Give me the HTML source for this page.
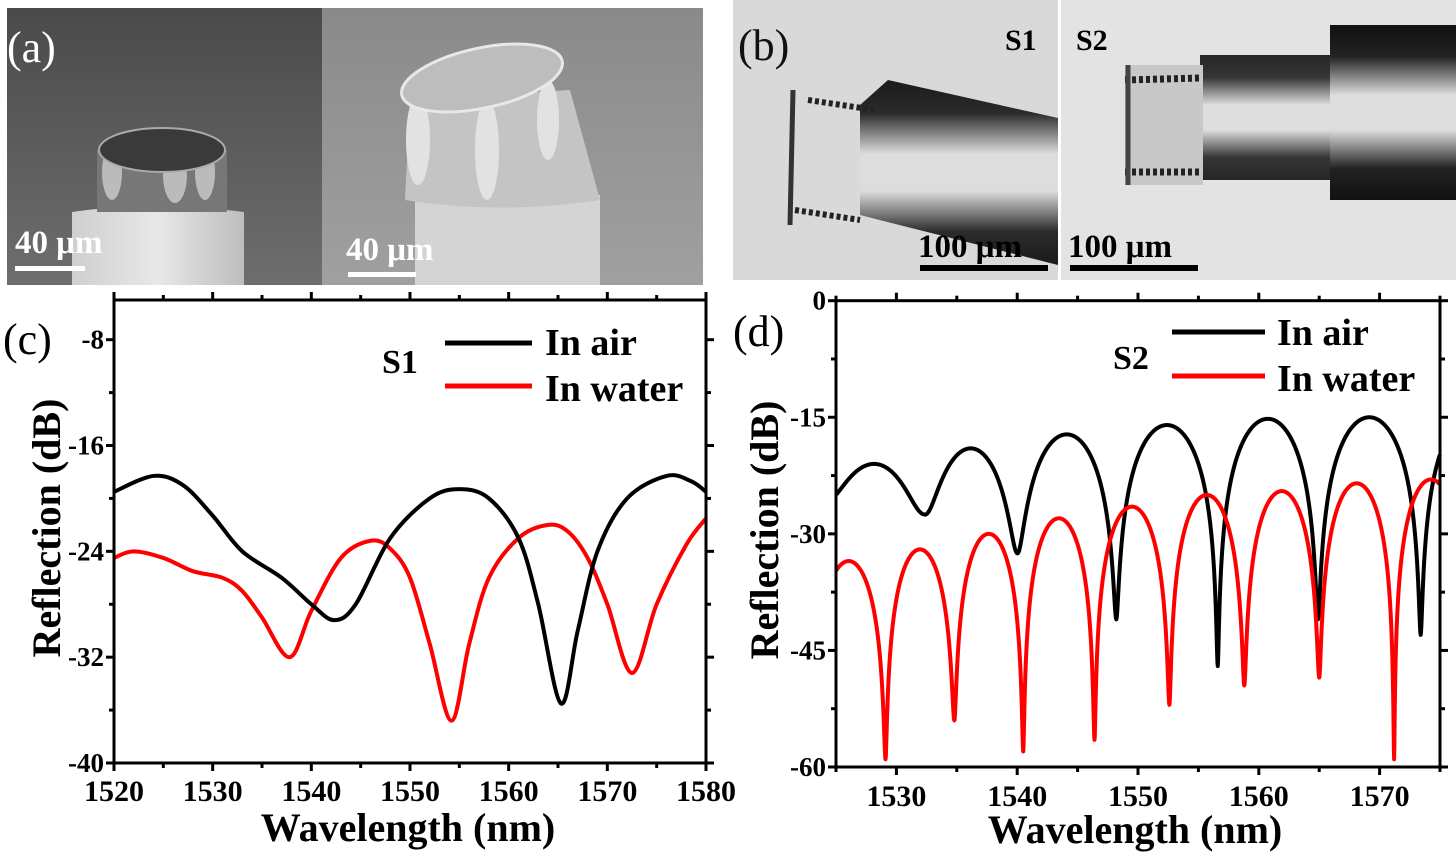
<!DOCTYPE html>
<html><head><meta charset="utf-8">
<style>
html,body{margin:0;padding:0;background:#fff;}
svg{display:block;}
text{font-family:"Liberation Serif",serif;}
.b{font-weight:bold;}
</style></head>
<body>
<svg id="s" width="1456" height="863" viewBox="0 0 1456 863" xmlns="http://www.w3.org/2000/svg">
<defs>
<linearGradient id="ga" x1="0" y1="0" x2="0" y2="1"><stop offset="0" stop-color="#4a4a4a"/><stop offset="1" stop-color="#6e6e6e"/></linearGradient>
<linearGradient id="gb" x1="0" y1="0" x2="0" y2="1"><stop offset="0" stop-color="#8a8a8a"/><stop offset="1" stop-color="#a0a0a0"/></linearGradient>
<linearGradient id="gc" x1="0" y1="0" x2="1" y2="0"><stop offset="0" stop-color="#cfcfcf"/><stop offset="0.5" stop-color="#e8e8e8"/><stop offset="1" stop-color="#bdbdbd"/></linearGradient>
<linearGradient id="fb1" x1="0" y1="0" x2="0" y2="1"><stop offset="0" stop-color="#111"/><stop offset="0.18" stop-color="#222"/><stop offset="0.4" stop-color="#ddd"/><stop offset="0.6" stop-color="#ddd"/><stop offset="0.82" stop-color="#222"/><stop offset="1" stop-color="#111"/></linearGradient>
<clipPath id="ca"><rect x="7" y="8" width="696" height="277"/></clipPath>
<clipPath id="cb1"><rect x="733" y="0" width="325" height="280"/></clipPath>
<clipPath id="cb2"><rect x="1061" y="0" width="395" height="280"/></clipPath>
</defs>
<!-- (a) -->
<g clip-path="url(#ca)">
<rect x="7" y="8" width="315" height="277" fill="url(#ga)"/>
<rect x="322" y="8" width="381" height="277" fill="url(#gb)"/>
<path d="M72 292 L72 212 Q150 200 244 212 L244 292Z" fill="url(#gc)"/>
<rect x="97" y="150" width="130" height="62" fill="#777"/>
<g fill="#bbb"><ellipse cx="112" cy="172" rx="10" ry="28"/><ellipse cx="175" cy="175" rx="12" ry="28"/><ellipse cx="205" cy="172" rx="10" ry="28"/></g>
<ellipse cx="162" cy="150" rx="63" ry="22" fill="#3a3a3a" stroke="#aaa" stroke-width="2"/>
<path d="M415 285 L415 200 Q500 185 600 195 L600 285Z" fill="#d4d4d4"/>
<path d="M405 200 L410 100 L570 90 L600 200 Q500 215 405 200Z" fill="#c4c4c4"/>
<g fill="#e2e2e2"><ellipse cx="418" cy="140" rx="12" ry="45"/><ellipse cx="487" cy="150" rx="12" ry="50"/><ellipse cx="548" cy="120" rx="11" ry="40"/></g>
<ellipse cx="482" cy="78" rx="82" ry="30" fill="#bdbdbd" stroke="#e8e8e8" stroke-width="3" transform="rotate(-12 482 78)"/>
</g>
<text x="7" y="62" font-size="44" fill="#fff">(a)</text>
<text x="15" y="253" font-size="33" class="b" fill="#fff">40 μm</text>
<rect x="15" y="266" width="70" height="5" fill="#fff"/>
<text x="346" y="260" font-size="33" class="b" fill="#fff">40 μm</text>
<rect x="348" y="272" width="68" height="5" fill="#fff"/>
<!-- (b) -->
<g clip-path="url(#cb1)">
<rect x="733" y="0" width="325" height="280" fill="#d9d9d9"/>
<polygon points="888,80 1058,118 1058,265 860,215 860,105" fill="url(#fb1)" opacity="0.95"/>
<g stroke="#222" stroke-width="6" stroke-dasharray="4 3"><line x1="808" y1="100" x2="875" y2="110"/><line x1="795" y1="210" x2="860" y2="220"/></g>
<line x1="793" y1="90" x2="790" y2="225" stroke="#333" stroke-width="5"/>
</g>
<g clip-path="url(#cb2)">
<rect x="1061" y="0" width="395" height="280" fill="#e3e3e3"/>
<rect x="1330" y="25" width="126" height="175" fill="url(#fb1)"/>
<rect x="1200" y="55" width="130" height="125" fill="url(#fb1)" opacity="0.9"/>
<rect x="1125" y="65" width="78" height="120" fill="#c8c8c8"/>
<g stroke="#222" stroke-width="7" stroke-dasharray="4 3"><line x1="1125" y1="80" x2="1200" y2="78"/><line x1="1125" y1="172" x2="1200" y2="172"/></g>
<line x1="1128" y1="65" x2="1128" y2="185" stroke="#444" stroke-width="5"/>
</g>
<text x="738" y="60" font-size="44" fill="#111">(b)</text>
<text x="1005" y="50" font-size="30" class="b">S1</text>
<text x="1076" y="50" font-size="30" class="b">S2</text>
<text x="918" y="257" font-size="33" class="b">100 μm</text>
<rect x="920" y="265" width="128" height="6" fill="#000"/>
<text x="1068" y="257" font-size="33" class="b">100 μm</text>
<rect x="1070" y="265" width="128" height="6" fill="#000"/>
<g id="plots"></g>
</svg>
<script>
var NS="http://www.w3.org/2000/svg",G=document.getElementById("plots");
function el(t,a,txt){var e=document.createElementNS(NS,t);for(var k in a)e.setAttribute(k,a[k]);if(txt!=null)e.textContent=txt;G.appendChild(e);return e;}
var cx=function(l){return 114+(l-1520)*(592/60);}, cy=function(d){return 763-(d+40)*(463/35);};
function cr(pts,fx,fy){var p=pts.map(function(q){return [fx(q[0]),fy(q[1])];});var s="M"+p[0][0]+" "+p[0][1];
for(var i=0;i<p.length-1;i++){var p0=p[i-1]||p[i],p1=p[i],p2=p[i+1],p3=p[i+2]||p2;
s+=" C"+(p1[0]+(p2[0]-p0[0])/6)+" "+(p1[1]+(p2[1]-p0[1])/6)+" "+(p2[0]-(p3[0]-p1[0])/6)+" "+(p2[1]-(p3[1]-p1[1])/6)+" "+p2[0]+" "+p2[1];}return s;}
var blk=[[1520,-19.5],[1524,-18.3],[1527,-19],[1530,-21.3],[1533,-24],[1537,-26],[1540,-28],[1542.3,-29.2],[1544.5,-28],[1548,-23],[1552,-20],[1555,-19.3],[1558,-20],[1561,-23],[1563,-28],[1565.3,-35.5],[1567,-30],[1569,-24],[1572,-20],[1576,-18.3],[1578.5,-18.7],[1580,-19.5]];
var red=[[1520,-24.5],[1522,-24],[1525,-24.5],[1528,-25.5],[1531,-26],[1533,-27],[1535,-29],[1537.8,-32],[1540,-28.5],[1543,-24.5],[1546,-23.2],[1548,-23.8],[1550,-26],[1552,-31],[1554.2,-36.8],[1556,-31],[1558,-26],[1561,-23],[1564,-22],[1566,-22.5],[1568,-24.5],[1570,-28],[1572.5,-33.2],[1575,-28],[1578,-23.5],[1580,-21.5]];
el("path",{d:cr(red,cx,cy),fill:"none",stroke:"#f00","stroke-width":4});
el("path",{d:cr(blk,cx,cy),fill:"none",stroke:"#000","stroke-width":4});
el("rect",{x:114,y:300,width:592,height:463,fill:"none",stroke:"#000","stroke-width":3});
for(var l=1520;l<=1580;l+=5){var x=cx(l),L=(l%10==0)?8:5;el("line",{x1:x,y1:763,x2:x,y2:763+L,stroke:"#000","stroke-width":3});el("line",{x1:x,y1:300,x2:x,y2:300-L,stroke:"#000","stroke-width":3});
if(l%10==0)el("text",{x:x,y:801,"font-size":30,"text-anchor":"middle","class":"b"},l);}
for(var d=-40;d<=-8;d+=4){var y=cy(d),L=(d%8==0)?8:5;el("line",{x1:114,y1:y,x2:114-L,y2:y,stroke:"#000","stroke-width":3});el("line",{x1:706,y1:y,x2:706+L,y2:y,stroke:"#000","stroke-width":3});
if(d%8==0)el("text",{x:104,y:y+9,"font-size":27,"text-anchor":"end","class":"b"},d);}
el("text",{x:408,y:841,"font-size":40,"text-anchor":"middle","class":"b"},"Wavelength (nm)");
el("text",{x:0,y:0,"font-size":40,"text-anchor":"middle","class":"b",transform:"translate(60 528) rotate(-90)"},"Reflection (dB)");
el("text",{x:3,y:354,"font-size":44},"(c)");
el("line",{x1:445,y1:343,x2:532,y2:343,stroke:"#000","stroke-width":5});
el("line",{x1:445,y1:386,x2:532,y2:386,stroke:"#f00","stroke-width":5});
el("text",{x:545,y:355,"font-size":38,"class":"b"},"In air");
el("text",{x:545,y:401,"font-size":38,"class":"b"},"In water");
el("text",{x:382,y:373,"font-size":34,"class":"b"},"S1");
var dx=function(l){return 836+(l-1525)*(604/50);}, dy=function(v){return 300.7-v*(466.3/60);};
function fp(dips,peaks){var s="";for(var k=0;k<dips.length-1;k++){var a=dips[k],b=dips[k+1],p=peaks[k];
for(var i=0;i<=300;i++){var t=i/300,l=a[0]+(b[0]-a[0])*t;if(l<1525||l>1575)continue;var mn=a[1]+(b[1]-a[1])*t;
var Rmin=Math.pow(10,mn/10),Rmax=Math.pow(10,p/10),sn=Math.sin(Math.PI*t);var R=Rmin+(Rmax-Rmin)*sn*sn;var v=10*Math.log10(R);
s+=(s?" L":"M")+dx(l).toFixed(2)+" "+dy(v).toFixed(2);}}return s;}
var bd=[[1524,-26],[1532.3,-27.5],[1540,-32.5],[1548.2,-41],[1556.6,-47],[1564.9,-41],[1573.4,-43],[1581.8,-40]];
var bp=[-21,-19,-17.2,-16,-15.2,-15,-14.8];
var rd=[[1523,-40],[1529.1,-59],[1534.8,-54],[1540.5,-58],[1546.4,-56.5],[1552.6,-52],[1558.8,-49.5],[1565,-48.5],[1571.2,-59],[1577.3,-50]];
var rp=[-33.5,-32,-30,-28,-26.5,-25,-24.5,-23.5,-23];
el("path",{d:fp(bd,bp),fill:"none",stroke:"#000","stroke-width":4,"stroke-linejoin":"round"});
el("path",{d:fp(rd,rp),fill:"none",stroke:"#f00","stroke-width":4,"stroke-linejoin":"round"});
el("rect",{x:836,y:300.7,width:604,height:466.3,fill:"none",stroke:"#000","stroke-width":3});
for(var l=1525;l<=1575;l+=5){var x=dx(l),L=(l%10==0)?8:5;el("line",{x1:x,y1:767,x2:x,y2:767+L,stroke:"#000","stroke-width":3});el("line",{x1:x,y1:300.7,x2:x,y2:300.7-L,stroke:"#000","stroke-width":3});
if(l%10==0)el("text",{x:x,y:806,"font-size":30,"text-anchor":"middle","class":"b"},l);}
for(var v=-60;v<=0;v+=7.5){var y=dy(v),L=(v%15==0)?8:5;el("line",{x1:836,y1:y,x2:836-L,y2:y,stroke:"#000","stroke-width":3});el("line",{x1:1440,y1:y,x2:1440+L,y2:y,stroke:"#000","stroke-width":3});
if(v%15==0)el("text",{x:826,y:y+9,"font-size":27,"text-anchor":"end","class":"b"},v);}
el("text",{x:1135,y:843,"font-size":40,"text-anchor":"middle","class":"b"},"Wavelength (nm)");
el("text",{x:0,y:0,"font-size":40,"text-anchor":"middle","class":"b",transform:"translate(778 530) rotate(-90)"},"Reflection (dB)");
el("text",{x:733,y:346,"font-size":44},"(d)");
el("line",{x1:1172,y1:332,x2:1265,y2:332,stroke:"#000","stroke-width":5});
el("line",{x1:1172,y1:376,x2:1265,y2:376,stroke:"#f00","stroke-width":5});
el("text",{x:1277,y:345,"font-size":38,"class":"b"},"In air");
el("text",{x:1277,y:391,"font-size":38,"class":"b"},"In water");
el("text",{x:1113,y:369,"font-size":34,"class":"b"},"S2");
</script>
</body></html>
